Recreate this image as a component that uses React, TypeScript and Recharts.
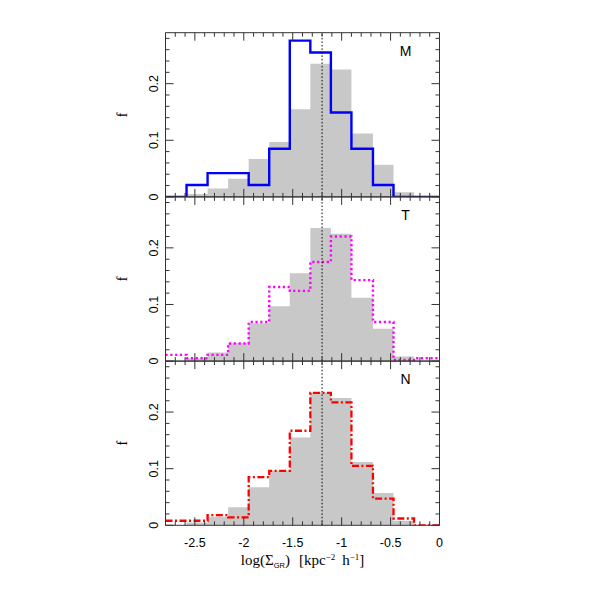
import React from 'react';
import { ComposedChart, Area, Line, XAxis, YAxis, ReferenceLine, Label } from 'recharts';

// ---- data ----
const binEdges = [-2.8, -2.585, -2.37, -2.16, -1.95, -1.74, -1.53, -1.32, -1.11, -0.9, -0.68, -0.47, -0.26, 0];
const grayAll = [0, 0.005, 0.015, 0.032, 0.067, 0.097, 0.155, 0.235, 0.225, 0.112, 0.057, 0.008, 0];
const sampleM = [0, 0.021, 0.042, 0.042, 0.021, 0.085, 0.276, 0.255, 0.149, 0.085, 0.021, 0, 0];
const sampleT = [0.011, 0.005, 0.011, 0.031, 0.069, 0.131, 0.124, 0.175, 0.22, 0.143, 0.069, 0.002, 0.005];
const sampleN = [0.008, 0.008, 0.018, 0.014, 0.085, 0.096, 0.167, 0.234, 0.217, 0.105, 0.047, 0.012, 0];
const medianX = -1.2;
const panelNames = ['M', 'T', 'N'];

const xAllTicks = [-2.8, -2.7, -2.6, -2.5, -2.4, -2.3, -2.2, -2.1, -2.0, -1.9, -1.8, -1.7, -1.6, -1.5, -1.4, -1.3, -1.2, -1.1, -1.0, -0.9, -0.8, -0.7, -0.6, -0.5, -0.4, -0.3, -0.2, -0.1, 0];
const xMajorTicks = [-2.5, -2, -1.5, -1, -0.5, 0];
const yAllTicks = [0, 0.02, 0.04, 0.06, 0.08, 0.1, 0.12, 0.14, 0.16, 0.18, 0.2, 0.22, 0.24, 0.26, 0.28];
const yMajorTicks = [0, 0.1, 0.2];
const xDomain = [-2.8, 0];
const yDomain = [0, 0.29];

// ---- layout / styles ----
const W = 599;
const H = 599;
const PLOT_LEFT = 165.5;
const PLOT_RIGHT = 439.5;
const AXIS = '#333';
const SANS = '"Liberation Sans", Arial, Helvetica, sans-serif';
const SERIF = '"Liberation Serif", "Times New Roman", serif';

const panels = [
  { top: 32.7, bottom: 196.9, series: sampleM, stroke: '#0000ff', dash: undefined as string | undefined, width: 2.4 },
  { top: 196.9, bottom: 361.1, series: sampleT, stroke: '#ff00ff', dash: '2.2 2.6', width: 2.4 },
  { top: 361.1, bottom: 525.3, series: sampleN, stroke: '#ff0000', dash: '7 2.5 2 2.5', width: 2.3 },
];

const isIn = (v: number, arr: number[]) => arr.some((m) => Math.abs(m - v) < 1e-6);

const makeXTick = (side: 'top' | 'bottom', labels: boolean) => (props: any) => {
  const { x, y, payload } = props;
  const v = payload.value as number;
  const major = isIn(v, xMajorTicks);
  const len = major ? 8 : 4;
  const y2 = side === 'bottom' ? y - len : y + len;
  return (
    <g>
      <line x1={x} x2={x} y1={y} y2={y2} stroke={AXIS} strokeWidth={1} />
      {labels && major && (
        <text x={x} y={y + 21.7} textAnchor="middle" fontFamily={SANS} fontSize={12.5} fill="#000">
          {String(v)}
        </text>
      )}
    </g>
  );
};

const makeYTick = (side: 'left' | 'right', labels: boolean) => (props: any) => {
  const { x, y, payload } = props;
  const v = payload.value as number;
  const major = isIn(v, yMajorTicks);
  const len = major ? 8 : 4;
  const x2 = side === 'left' ? x + len : x - len;
  const bx = x - 7;
  return (
    <g>
      <line x1={x} x2={x2} y1={y} y2={y} stroke={AXIS} strokeWidth={1} />
      {labels && major && (
        <text
          x={bx}
          y={y}
          transform={`rotate(-90 ${bx} ${y})`}
          textAnchor="middle"
          fontFamily={SANS}
          fontSize={12.5}
          fill="#000"
        >
          {String(v)}
        </text>
      )}
    </g>
  );
};

const renderF = (props: any) => {
  const vb = props.viewBox || {};
  const bx = (vb.x ?? PLOT_LEFT - 1) + (vb.width ?? 1) - 38.5;
  const cy = (vb.y ?? 0) + (vb.height ?? 0) / 2;
  return (
    <text x={bx} y={cy} transform={`rotate(-90 ${bx} ${cy})`} textAnchor="middle" fontFamily={SERIF} fontSize={14} fill="#000">
      f
    </text>
  );
};

const makeName = (name: string) => (props: any) => {
  const vb = props.viewBox || {};
  const x = (vb.x ?? PLOT_RIGHT) - 34;
  const y = (vb.y ?? 0) + 23;
  return (
    <text x={x} y={y} textAnchor="middle" fontFamily={SANS} fontSize={14} fill="#000">
      {name}
    </text>
  );
};

const renderTitle = (props: any) => {
  const vb = props.viewBox || {};
  const cx = (vb.x ?? PLOT_LEFT) + (vb.width ?? 0) / 2;
  const y = (vb.y ?? 525) + 40;
  return (
    <text x={cx} y={y} textAnchor="middle" fontFamily={SERIF} fontSize={15} fill="#000">
      <tspan>log(Σ</tspan>
      <tspan dy={3} fontSize={7.5} fontFamily={SANS}>GR</tspan>
      <tspan dy={-3}>)</tspan>
      <tspan dx={9}>[kpc</tspan>
      <tspan dy={-5} fontSize={9}>−2</tspan>
      <tspan dy={5} dx={7}>h</tspan>
      <tspan dy={-5} fontSize={9}>−1</tspan>
      <tspan dy={5}>]</tspan>
    </text>
  );
};

function Panel({ index }: { index: number }) {
  const p = panels[index];
  const last = index === panels.length - 1;
  const rows = binEdges.map((x, i) => {
    const k = Math.min(i, grayAll.length - 1);
    return { x, g: grayAll[k], v: p.series[k] };
  });
  return (
    <div style={{ position: 'absolute', left: 0, top: 0, width: W, height: H }}>
      <ComposedChart
        width={W}
        height={H}
        data={rows}
        margin={{ top: p.top - 1, bottom: H - p.bottom - 1, left: PLOT_LEFT - 1, right: W - PLOT_RIGHT - 1 }}
      >
        <XAxis
          xAxisId="b"
          dataKey="x"
          type="number"
          domain={xDomain}
          ticks={xAllTicks}
          interval={0}
          height={1}
          tickSize={0}
          tickMargin={0}
          tickLine={false}
          axisLine={{ stroke: AXIS, strokeWidth: 1 }}
          tick={makeXTick('bottom', last)}
          allowDataOverflow
        >
          {last && <Label content={renderTitle} />}
        </XAxis>
        <XAxis
          xAxisId="t"
          orientation="top"
          dataKey="x"
          type="number"
          domain={xDomain}
          ticks={xAllTicks}
          interval={0}
          height={1}
          tickSize={0}
          tickMargin={0}
          tickLine={false}
          axisLine={{ stroke: AXIS, strokeWidth: 1 }}
          tick={makeXTick('top', false)}
          allowDataOverflow
        />
        <YAxis
          yAxisId="l"
          type="number"
          domain={yDomain}
          ticks={yAllTicks}
          interval={0}
          width={1}
          tickSize={0}
          tickMargin={0}
          tickLine={false}
          axisLine={{ stroke: AXIS, strokeWidth: 1 }}
          tick={makeYTick('left', true)}
          allowDataOverflow
        >
          <Label content={renderF} />
        </YAxis>
        <YAxis
          yAxisId="r"
          orientation="right"
          type="number"
          domain={yDomain}
          ticks={yAllTicks}
          interval={0}
          width={1}
          tickSize={0}
          tickMargin={0}
          tickLine={false}
          axisLine={{ stroke: AXIS, strokeWidth: 1 }}
          tick={makeYTick('right', false)}
          allowDataOverflow
        >
          <Label content={makeName(panelNames[index])} />
        </YAxis>
        <Area
          xAxisId="b"
          yAxisId="l"
          type="stepAfter"
          dataKey="g"
          fill="#c8c8c8"
          fillOpacity={1}
          stroke="none"
          isAnimationActive={false}
        />
        <Line
          xAxisId="b"
          yAxisId="l"
          type="stepAfter"
          dataKey="v"
          stroke={p.stroke}
          strokeWidth={p.width}
          strokeDasharray={p.dash}
          dot={false}
          activeDot={false}
          isAnimationActive={false}
        />
        <ReferenceLine
          xAxisId="b"
          yAxisId="l"
          x={medianX}
          stroke="#000"
          strokeWidth={1}
          strokeDasharray="1.5 2"
        />
      </ComposedChart>
    </div>
  );
}

export default function App() {
  return (
    <div style={{ position: 'absolute', left: 0, top: 0, width: W, height: H, background: '#fff' }}>
      {panels.map((_, i) => (
        <Panel key={i} index={i} />
      ))}
    </div>
  );
}
